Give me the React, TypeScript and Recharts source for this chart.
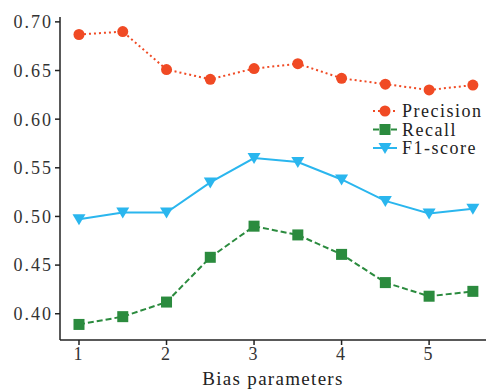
import React from "react";
import { LineChart, Line, XAxis, YAxis, Legend } from "recharts";

const biasParams = [1, 1.5, 2, 2.5, 3, 3.5, 4, 4.5, 5, 5.5];
const precision = [0.687, 0.69, 0.651, 0.641, 0.652, 0.657, 0.642, 0.636, 0.63, 0.635];
const recall = [0.389, 0.397, 0.412, 0.458, 0.49, 0.481, 0.461, 0.432, 0.418, 0.423];
const f1score = [0.497, 0.504, 0.504, 0.535, 0.56, 0.556, 0.538, 0.516, 0.503, 0.508];
const xTicks = [1, 2, 3, 4, 5];
const yTicks = [0.4, 0.45, 0.5, 0.55, 0.6, 0.65, 0.7];

const RED = "#f04a24";
const GREEN = "#2b8b3e";
const BLUE = "#2ab6ee";
const AXIS = "#222";
const FONT = "Liberation Serif";

const data = biasParams.map((b, i) => ({
  bias: b,
  precision: precision[i],
  recall: recall[i],
  f1: f1score[i],
}));

const Square = (props: any) => {
  const { cx, cy } = props;
  if (cx == null || cy == null) return null;
  return <rect x={cx - 5.5} y={cy - 5.5} width={11} height={11} fill={GREEN} />;
};

const TriDown = (props: any) => {
  const { cx, cy } = props;
  if (cx == null || cy == null) return null;
  return (
    <polygon
      points={`${cx - 6.5},${cy - 5} ${cx + 6.5},${cy - 5} ${cx},${cy + 6}`}
      fill={BLUE}
    />
  );
};

const Circle = (props: any) => {
  const { cx, cy } = props;
  if (cx == null || cy == null) return null;
  return <circle cx={cx} cy={cy} r={5.5} fill={RED} />;
};

const LegendBox = () => {
  const items = [
    { name: "Precision", color: RED, dash: "2 3", mark: "circle" },
    { name: "Recall", color: GREEN, dash: "6 3", mark: "square" },
    { name: "F1-score", color: BLUE, dash: undefined, mark: "tri" },
  ];
  return (
    <svg width={120} height={62}>
      {items.map((it, i) => {
        const y = 10 + i * 18.5;
        const cx = 15;
        return (
          <g key={it.name}>
            <line x1={3} x2={27} y1={y} y2={y} stroke={it.color} strokeWidth={2} strokeDasharray={it.dash} />
            {it.mark === "circle" && <Circle cx={cx} cy={y} />}
            {it.mark === "square" && <Square cx={cx} cy={y} />}
            {it.mark === "tri" && <TriDown cx={cx} cy={y} />}
            <text x={32} y={y + 6} fontSize={18} fontFamily={FONT} fill="#222" letterSpacing={1.5}>
              {it.name}
            </text>
          </g>
        );
      })}
    </svg>
  );
};

const tickStyle = { fontSize: 18, fontFamily: FONT, fill: "#333", letterSpacing: 2 };

export default function App() {
  return (
    <div style={{ position: "absolute", left: 0, top: 0, width: 488, height: 390, background: "#fff" }}>
      <LineChart width={488} height={390} data={data} margin={{ top: 17, right: 2, bottom: 0, left: 0 }}>
        <XAxis
          dataKey="bias"
          type="number"
          domain={[0.783, 5.65]}
          ticks={xTicks}
          tick={tickStyle}
          stroke={AXIS}
          strokeWidth={1.5}
          tickSize={5}
          height={50}
          label={{ value: "Bias parameters", position: "insideBottom", offset: 5, fontSize: 19, fontFamily: FONT, fill: "#222", letterSpacing: 1.3 }}
        />
        <YAxis
          type="number"
          domain={[0.373, 0.705]}
          ticks={yTicks}
          tickFormatter={(v: number) => v.toFixed(2)}
          tick={tickStyle}
          stroke={AXIS}
          strokeWidth={1.5}
          tickSize={5}
          width={60}
        />
        <Legend
          layout="horizontal"
          verticalAlign="middle"
          align="center"
          wrapperStyle={{ position: "absolute", left: 370, top: 101, width: 120 }}
          content={() => <LegendBox />}
        />
        <Line
          dataKey="precision"
          stroke={RED}
          strokeWidth={2}
          strokeDasharray="2 3"
          dot={<Circle />}
          activeDot={false}
          isAnimationActive={false}
        />
        <Line
          dataKey="recall"
          stroke={GREEN}
          strokeWidth={2}
          strokeDasharray="6 3"
          dot={<Square />}
          activeDot={false}
          isAnimationActive={false}
        />
        <Line
          dataKey="f1"
          stroke={BLUE}
          strokeWidth={2}
          dot={<TriDown />}
          activeDot={false}
          isAnimationActive={false}
        />
      </LineChart>
    </div>
  );
}
